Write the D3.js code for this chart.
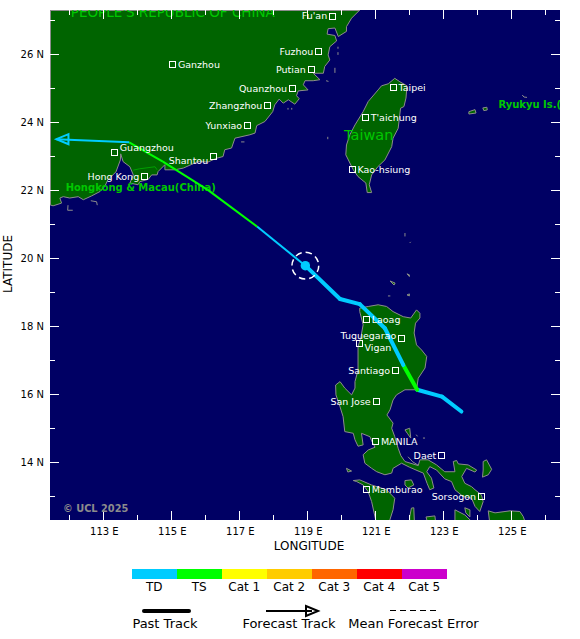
<!DOCTYPE html>
<html><head><meta charset="utf-8">
<script src="https://cdn.jsdelivr.net/npm/d3@7/dist/d3.min.js"></script>
<style>html,body{margin:0;padding:0;background:#fff}svg{display:block}text{font-family:"DejaVu Sans",sans-serif}</style>
</head><body><svg id="c" width="580" height="639"></svg>
<script>
const lonDomain=[111.43,126.43], latDomain=[12.29,27.29];
const lonTicks=d3.range(112,127), latTicks=d3.range(13,28);
const lonLabels=[113,115,117,119,121,123,125], latLabels=[14,16,18,20,22,24,26];
const categories=["TD","TS","Cat 1","Cat 2","Cat 3","Cat 4","Cat 5"];
const catColors=["#00ccff","#00ff00","#ffff00","#ffcc00","#ff6600","#ff0000","#cc00cc"];

const china=[[111.43,27.29],[120.54,27.29],[120.30,27.05],[120.15,26.80],[120.15,26.66],[119.91,26.51],[119.81,26.76],[119.61,26.74],[119.58,26.58],[119.81,26.54],[119.86,26.38],[119.66,26.21],[119.61,25.97],[119.66,25.82],[119.51,25.63],[119.47,25.43],[119.17,25.43],[119.37,25.24],[119.17,25.21],[118.93,25.21],[118.88,25.09],[119.02,24.94],[118.73,24.91],[118.68,24.77],[118.76,24.68],[118.63,24.52],[118.44,24.65],[118.29,24.55],[118.17,24.67],[118.04,24.50],[117.98,24.30],[117.75,24.01],[117.51,23.89],[117.46,23.67],[117.31,23.62],[116.87,23.52],[116.77,23.23],[116.57,23.18],[116.52,22.98],[116.33,22.93],[116.08,22.82],[115.78,22.83],[115.35,22.64],[115.10,22.59],[114.81,22.59],[114.81,22.74],[114.61,22.54],[114.58,22.44],[114.42,22.44],[114.32,22.31],[114.07,22.24],[114.02,22.15],[113.78,22.20],[113.88,22.44],[113.78,22.68],[113.58,22.83],[113.51,23.06],[113.50,22.88],[113.37,22.53],[113.28,22.44],[113.13,22.29],[113.04,22.10],[112.90,21.95],[112.65,21.82],[112.41,21.71],[112.26,21.80],[112.01,21.76],[111.82,21.80],[111.72,21.76],[111.77,21.61],[111.52,21.53],[111.43,21.56]];
const taiwan=[[121.57,25.28],[121.72,25.18],[121.93,25.06],[121.90,24.70],[121.84,24.45],[121.74,24.40],[121.67,23.81],[121.52,23.52],[121.48,23.27],[121.28,22.88],[121.08,22.69],[120.89,22.44],[120.82,22.15],[120.89,21.92],[120.76,21.92],[120.72,22.20],[120.49,22.39],[120.35,22.59],[120.13,23.03],[120.15,23.32],[120.25,23.62],[120.40,23.91],[120.64,24.30],[120.79,24.60],[121.08,24.94],[121.18,25.06],[121.38,25.12]];
const luzon=[[120.54,18.52],[120.79,18.57],[121.08,18.62],[121.33,18.57],[121.52,18.42],[121.82,18.27],[122.04,18.23],[122.21,18.47],[122.31,18.37],[122.31,18.23],[122.18,18.08],[122.14,17.79],[122.21,17.44],[122.36,17.29],[122.51,17.10],[122.46,16.76],[122.26,16.46],[122.21,16.12],[121.87,16.12],[121.62,15.97],[121.52,15.82],[121.43,15.53],[121.34,15.38],[121.52,15.14],[121.48,14.99],[121.57,14.74],[121.67,14.40],[121.75,14.18],[121.87,14.01],[122.26,13.89],[122.31,14.06],[122.55,14.06],[122.80,13.91],[123.04,13.71],[123.34,13.71],[123.29,14.01],[123.39,14.04],[123.44,13.94],[123.73,13.91],[123.98,13.76],[123.93,13.70],[123.68,13.81],[123.54,13.57],[123.63,13.37],[123.83,13.27],[123.93,13.18],[124.12,13.03],[124.17,12.83],[124.07,12.54],[123.93,12.69],[123.83,12.93],[123.58,12.98],[123.34,13.18],[123.24,13.42],[123.04,13.50],[122.80,13.76],[122.60,13.86],[122.51,13.71],[122.65,13.52],[122.72,13.23],[122.60,13.18],[122.52,13.37],[122.41,13.67],[122.31,13.71],[122.01,13.84],[121.77,13.96],[121.52,13.81],[121.48,13.67],[121.28,13.62],[121.04,13.71],[120.89,13.81],[120.69,13.96],[120.64,14.21],[120.79,14.35],[120.99,14.43],[120.89,14.62],[120.84,14.74],[120.59,14.84],[120.64,14.50],[120.49,14.46],[120.40,14.65],[120.35,14.84],[120.10,14.89],[120.05,15.33],[119.96,15.62],[119.84,15.97],[119.83,16.26],[119.96,16.36],[120.10,16.17],[120.30,15.97],[120.40,16.17],[120.40,16.36],[120.49,16.70],[120.49,17.39],[120.57,17.65],[120.64,18.03],[120.54,18.42]];
const islands=[
 [[120.35,13.45],[120.54,13.47],[120.89,13.32],[121.33,13.18],[121.57,12.93],[121.52,12.59],[121.38,12.15],[121.04,12.15],[120.89,12.83],[120.79,13.12],[120.64,13.32],[120.45,13.42]],
 [[121.87,13.45],[122.06,13.47],[122.13,13.32],[121.96,13.23],[121.87,13.32]],
 [[121.87,14.94],[122.01,14.99],[122.04,14.70],[121.94,14.84]],
 [[120.15,13.81],[120.30,13.73],[120.19,13.70]],
 [[124.17,14.01],[124.27,14.06],[124.42,13.78],[124.32,13.62],[124.15,13.55],[124.17,13.76]],
 [[123.34,12.59],[123.63,12.44],[123.93,12.15],[123.34,12.15]],
 [[123.63,12.65],[123.78,12.59],[123.78,12.38],[123.66,12.50]],
 [[124.32,12.56],[124.52,12.50],[124.96,12.56],[125.25,12.54],[125.35,12.39],[125.43,12.15],[124.37,12.15]],
 [[122.49,12.38],[122.75,12.41],[122.78,12.15],[122.55,12.15]],
 [[122.01,12.38],[122.06,12.64],[122.13,12.65],[122.15,12.15],[122.01,12.15]],
 [[123.75,24.30],[123.93,24.36],[123.96,24.26],[123.75,24.23]],
 [[124.16,24.41],[124.28,24.43],[124.29,24.35],[124.19,24.33]],
 [[121.43,19.32],[121.58,19.26],[121.55,19.20]],
 [[121.93,18.91],[122.00,18.94],[122.00,18.88]],
 [[121.93,19.53],[122.00,19.50],[122.00,19.45]]
];
const coastSpecks=[
 [[125.32,24.79],[125.37,24.73],[125.46,24.72]],
 [[119.81,25.59],[119.81,25.44]],
 [[119.90,26.21],[119.90,26.15]],[[119.90,26.05],[119.90,25.97]],
 [[119.55,25.21],[119.62,25.19]],
 [[118.43,24.41],[118.43,24.36]],[[118.54,24.41],[118.54,24.36]],
 [[117.05,23.41],[117.15,23.41]],
 [[119.60,23.56],[119.60,23.49]],
 [[121.87,20.73],[121.87,20.63]],
 [[122.01,20.44],[122.04,20.47]],
 [[121.37,18.88],[121.44,18.88]],
 [[122.40,14.70],[122.46,14.70]],
 [[122.20,14.80],[122.24,14.75]],
 [[112.63,21.68],[112.80,21.65],[112.82,21.55]],
 [[111.96,21.55],[111.95,21.40],[112.10,21.40]],
 [[121.96,14.15],[122.10,14.00],[122.26,13.90]]
];
const hkBorder=[[113.88,22.58],[114.07,22.62],[114.52,22.68],[114.58,22.59]];

const cityNames=["Fu'an","Fuzhou","Putian","Quanzhou","Zhangzhou","Yunxiao","Ganzhou","Guangzhou","Shantou","Hong Kong","Taipei","T'aichung","Kao-hsiung","Laoag","Tuguegarao","Vigan","Santiago","San Jose","MANILA","Daet","Mamburao","Sorsogon"];
const cityLon=[119.73,119.32,119.10,118.55,117.82,117.23,115.03,113.32,116.23,114.20,121.52,120.70,120.31,120.73,121.76,120.52,121.58,121.01,121.00,122.94,120.73,124.11];
const cityLat=[27.12,26.08,25.55,24.99,24.49,23.90,25.70,23.11,22.99,22.40,25.02,24.14,22.61,18.20,17.64,17.49,16.69,15.78,14.61,14.20,13.20,12.99];
const citySide=["l","l","l","l","l","l","r","r","l","l","r","r","r","r","l","r","l","l","r","l","r","l"];
const cityShift=[0,0,0,0,0,0,0,-5,4,0,0,0,0,0,-3,4,0,0,0,0,0,0];

const regionNames=["PEOPLE'S REPUBLIC OF CHINA","Taiwan","Hongkong & Macau(China)","Ryukyu Is.(Japan)"];
const regionLon=[112.04,120.08,111.89,124.62];
const regionLat=[27.07,23.46,21.97,24.42];
const regionSize=[13.5,14.5,10,10];
const regionWeight=["normal","normal","bold","bold"];

const pastLon=[123.53,122.96,122.23,121.82,121.28,120.54,119.96,118.94];
const pastLat=[15.48,15.92,16.12,16.85,17.93,18.64,18.79,19.77];
const pastCat=[0,0,1,0,0,0,0];
const fcstLon=[118.94,117.52,116.07,114.75,113.76,111.62];
const fcstLat=[19.77,20.92,22.00,22.83,23.40,23.49];
const fcstCat=[0,1,1,1,0];

const svg=d3.select("#c");
const x=d3.scaleLinear().domain(lonDomain).range([50,560]);
const y=d3.scaleLinear().domain(latDomain).range([520,10]);
const line=d3.line().x(d=>x(d[0])).y(d=>y(d[1]));
const defs=svg.append("defs");
defs.append("clipPath").attr("id","plot").append("rect").attr("x",50).attr("y",10).attr("width",510).attr("height",510);

svg.append("rect").attr("x",50).attr("y",10).attr("width",510).attr("height",510).attr("fill","#000064");
const g=svg.append("g").attr("clip-path","url(#plot)");
const coast="#8c8c8c";
g.selectAll("path.land").data([china,taiwan,luzon,...islands]).join("path").attr("class","land")
 .attr("d",d=>line(d)+"Z").attr("fill","#006400").attr("stroke",coast).attr("stroke-width",1);
g.selectAll("path.speck").data(coastSpecks).join("path").attr("class","speck")
 .attr("d",line).attr("fill","none").attr("stroke",coast).attr("stroke-width",1);
g.append("path").attr("d",line(hkBorder)).attr("fill","none").attr("stroke","#00a000").attr("stroke-width",1);
g.append("path").attr("d",line([[lonDomain[0],21.56],[lonDomain[0],latDomain[1]],[120.54,latDomain[1]]])).attr("fill","none").attr("stroke",coast).attr("stroke-width",2);

// regions
g.selectAll("text.reg").data(regionNames).join("text").attr("class","reg")
 .attr("x",(d,i)=>x(regionLon[i])).attr("y",(d,i)=>y(regionLat[i]))
 .attr("font-size",(d,i)=>regionSize[i]).attr("font-weight",(d,i)=>regionWeight[i]).attr("fill","#00c800").text(d=>d);

// ticks
const tick=g.append("g").attr("stroke","#fff").attr("stroke-width",1);
lonTicks.forEach(v=>{const L=v%2?9:5,X=Math.round(x(v))+.5;
 tick.append("line").attr("x1",X).attr("x2",X).attr("y1",10).attr("y2",10+L);
 tick.append("line").attr("x1",X).attr("x2",X).attr("y1",520).attr("y2",520-L);});
latTicks.forEach(v=>{const L=v%2?5:9,Y=Math.round(y(v))+.5;
 tick.append("line").attr("x1",50).attr("x2",50+L).attr("y1",Y).attr("y2",Y);
 tick.append("line").attr("x1",560).attr("x2",560-L).attr("y1",Y).attr("y2",Y);});

// track
const past=d3.range(pastCat.length).map(i=>({c:pastCat[i],p:[[pastLon[i],pastLat[i]],[pastLon[i+1],pastLat[i+1]]]}));
const fc=d3.range(fcstCat.length).map(i=>({c:fcstCat[i],p:[[fcstLon[i],fcstLat[i]],[fcstLon[i+1],fcstLat[i+1]]]}));
g.selectAll("path.fc").data(fc).join("path").attr("class","fc").attr("d",d=>line(d.p))
 .attr("fill","none").attr("stroke",d=>catColors[d.c]).attr("stroke-width",2);
const n=fcstLon.length-1, tipX=x(fcstLon[n]), tipY=y(fcstLat[n]);
g.append("path").attr("d",`M${tipX},${tipY}L${tipX+12},${tipY-5}L${tipX+12},${tipY+5}Z`)
 .attr("fill","none").attr("stroke",catColors[fcstCat[n-1]]).attr("stroke-width",2);
g.selectAll("path.past").data(past).join("path").attr("class","past").attr("d",d=>line(d.p))
 .attr("fill","none").attr("stroke",d=>catColors[d.c]).attr("stroke-width",4).attr("stroke-linecap","round");
g.append("circle").attr("cx",x(pastLon[7])).attr("cy",y(pastLat[7])).attr("r",4.7).attr("fill",catColors[0]);
g.append("circle").attr("cx",x(pastLon[7])).attr("cy",y(pastLat[7])).attr("r",13.4).attr("fill","none").attr("stroke","#fff").attr("stroke-width",1.5).attr("stroke-dasharray","6.5 4");

// cities
const city=g.selectAll("g.city").data(cityNames).join("g").attr("class","city");
city.append("rect").attr("x",(d,i)=>Math.round(x(cityLon[i]))-3+.5).attr("y",(d,i)=>Math.round(y(cityLat[i]))-3+.5)
 .attr("width",6).attr("height",6).attr("fill","none").attr("stroke","#fff").attr("stroke-width",1);
city.append("text").attr("x",(d,i)=>x(cityLon[i])+(citySide[i]=="r"?5.5:-5))
 .attr("y",(d,i)=>y(cityLat[i])+3.5+cityShift[i]).attr("text-anchor",(d,i)=>citySide[i]=="r"?"start":"end")
 .attr("font-size",9.5).attr("fill","#fff").text(d=>d);

g.append("text").attr("x",63).attr("y",512).attr("font-size",9.8).attr("font-weight","bold").attr("fill","#8c8c8c").text("© UCL 2025");

// axis labels
svg.selectAll("text.lat").data(latLabels).join("text").attr("class","lat").attr("x",44).attr("y",d=>y(d)+4)
 .attr("text-anchor","end").attr("font-size",10).attr("fill","#000").text(d=>d+" N");
svg.selectAll("text.lon").data(lonLabels).join("text").attr("class","lon").attr("x",d=>x(d)+1).attr("y",535)
 .attr("text-anchor","middle").attr("font-size",10).attr("fill","#000").text(d=>d+" E");
svg.append("text").attr("x",309).attr("y",550).attr("text-anchor","middle").attr("font-size",12).text("LONGITUDE");
svg.append("text").attr("transform","translate(12,264) rotate(-90)").attr("text-anchor","middle").attr("font-size",12).text("LATITUDE");

// legend
const legX=d3.scaleBand().domain(categories).range([132,447]);
svg.selectAll("rect.leg").data(categories).join("rect").attr("class","leg").attr("x",d=>legX(d)).attr("y",569).attr("width",legX.bandwidth()).attr("height",10).attr("fill",(d,i)=>catColors[i]);
svg.selectAll("text.leg").data(categories).join("text").attr("class","leg").attr("x",d=>legX(d)+legX.bandwidth()/2-.3).attr("y",591).attr("text-anchor","middle").attr("font-size",12).text(d=>d);
svg.append("line").attr("x1",144).attr("x2",189).attr("y1",611).attr("y2",611).attr("stroke","#000").attr("stroke-width",4).attr("stroke-linecap","round");
svg.append("line").attr("x1",266).attr("x2",312).attr("y1",611).attr("y2",611).attr("stroke","#000").attr("stroke-width",2);
svg.append("path").attr("d","M318,611L306,606L306,616Z").attr("fill","none").attr("stroke","#000").attr("stroke-width",2);
svg.append("line").attr("x1",390).attr("x2",437).attr("y1",610.5).attr("y2",610.5).attr("stroke","#000").attr("stroke-width",1).attr("stroke-dasharray","6 4");
[["Past Track",165],["Forecast Track",289],["Mean Forecast Error",413.5]].forEach(([t,X])=>svg.append("text").attr("x",X).attr("y",628).attr("text-anchor","middle").attr("font-size",13).text(t));
</script></body></html>
